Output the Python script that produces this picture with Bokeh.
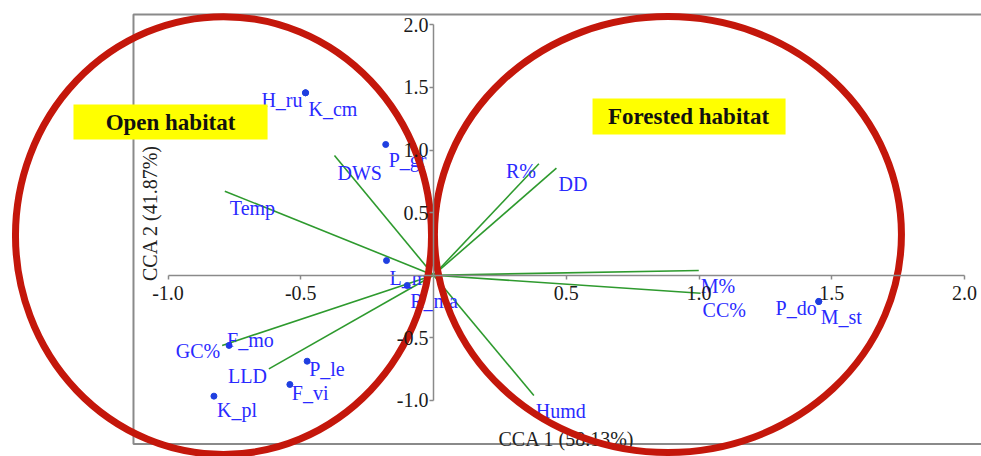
from bokeh.plotting import figure
from bokeh.models import ColumnDataSource, FixedTicker, PrintfTickFormatter, Range1d
from bokeh.embed import file_html
from bokeh.resources import INLINE
from bokeh.core.properties import value

# ---------------- data ----------------
species = ["H_ru", "K_cm", "P_gr", "L_m", "R_ma", "F_mo", "P_le", "F_vi", "K_pl", "P_do", "M_st"]
sp_x = [-0.482, -0.482, -0.180, -0.177, -0.099, -0.770, -0.476, -0.541, -0.827, 1.451, 1.451]
sp_y = [1.457, 1.457, 1.044, 0.117, -0.082, -0.561, -0.687, -0.873, -0.966, -0.210, -0.210]

env = ["Temp", "DWS", "R%", "DD", "M%", "CC%", "Humd", "GC%", "LLD"]
env_x = [-0.786, -0.373, 0.397, 0.463, 0.999, 1.006, 0.378, -0.796, -0.620]
env_y = [0.671, 0.956, 0.890, 0.855, 0.038, -0.144, -0.961, -0.561, -0.748]

ticks = [-1.0, -0.5, 0.5, 1.0, 1.5, 2.0]
x_title = "CCA 1 (58.13%)"
y_title = "CCA 2 (41.87%)"
groups = ["Open habitat", "Forested habitat"]

# ---------------- label placement (style) ----------------
sp_align = ["right", "left", "left", "left", "left", "left", "left", "left", "left", "right", "left"]
sp_dx = [-3, 3, 3, 3, 3, -2, 2, 2, 3, -2, 2]
sp_dy = [7, 16, 16, 17, 16, -5, 8, 9, 14, 7, 16]
env_align = ["left", "left", "right", "left", "left", "left", "left", "right", "right"]
env_dx = [5, 3, -3, 2, 2, 2, 2, -2, -2]
env_dy = [17, 17, 7, 16, 16, 17, 15, 6, 7]

FONT = value("Liberation Serif")
BLUE = "#2a2aff"
GREEN = "#2e9a2e"
RED = "#c4170b"
GRAY = "#8a8a8a"

p = figure(width=981, height=456,
           x_range=Range1d(-1.6309, 2.0640), y_range=Range1d(-1.4481, 2.1941),
           output_backend="svg", toolbar_location=None, min_border=0,
           outline_line_color=None)
p.grid.visible = False

for ax in (p.xaxis, p.yaxis):
    ax.fixed_location = 0
    ax.bounds = (-1, 2)
    ax.ticker = FixedTicker(ticks=ticks, minor_ticks=[])
    ax.formatter = PrintfTickFormatter(format="%.1f")
    ax.axis_line_color = GRAY
    ax.axis_line_width = 1.5
    ax.major_tick_line_color = GRAY
    ax.major_tick_line_width = 1.5
    ax.major_tick_in = 0
    ax.major_tick_out = 4
    ax.minor_tick_line_color = None
    ax.major_label_text_font = "Liberation Serif"
    ax.major_label_text_font_size = "20px"
    ax.major_label_text_color = "#1a1a1a"
p.xaxis.major_label_standoff = 7
p.yaxis.major_label_standoff = 1

# frame box
p.quad(left=[-1.130], right=[2.2], top=[2.082], bottom=[-1.348],
       fill_color=None, line_color=GRAY, line_width=2)

# environmental vectors
src_env = ColumnDataSource(dict(x=env_x, y=env_y))
p.segment(x0=0, y0=0, x1="x", y1="y", source=src_env, line_color=GREEN, line_width=1.6)
for al in ("left", "right"):
    idx = [i for i, a in enumerate(env_align) if a == al]
    s = ColumnDataSource(dict(x=[env_x[i] for i in idx], y=[env_y[i] for i in idx],
                              t=[env[i] for i in idx], dx=[env_dx[i] for i in idx],
                              dy=[env_dy[i] for i in idx]))
    p.text(x="x", y="y", text="t", x_offset="dx", y_offset="dy", source=s,
           text_align=al, text_baseline="alphabetic", text_font=FONT,
           text_font_size="20px", text_color=BLUE)

# species points
p.scatter(x=sp_x, y=sp_y, size=6, color="#1f3fe0")
for al in ("left", "right"):
    idx = [i for i, a in enumerate(sp_align) if a == al]
    s = ColumnDataSource(dict(x=[sp_x[i] for i in idx], y=[sp_y[i] for i in idx],
                              t=[species[i] for i in idx], dx=[sp_dx[i] for i in idx],
                              dy=[sp_dy[i] for i in idx]))
    p.text(x="x", y="y", text="t", x_offset="dx", y_offset="dy", source=s,
           text_align=al, text_baseline="alphabetic", text_font=FONT,
           text_font_size="20px", text_color=BLUE)

# axis titles
p.text(x=[0.501], y=[-1.307], text=[x_title], text_align="center", text_baseline="alphabetic",
       text_font=FONT, text_font_size="20px", text_color="#222222")
p.text(x=[-1.066], y=[0.497], text=[y_title], angle=1.5708, text_align="center",
       text_baseline="alphabetic", text_font=FONT, text_font_size="20px", text_color="#222222")

# group boxes
p.quad(left=[-1.356, 0.599], right=[-0.625, 1.326], top=[1.363, 1.411], bottom=[1.084, 1.124],
       fill_color="#ffff00", line_color=None)
p.text(x=[-0.9906, 0.9605], y=[1.2196, 1.2676], text=groups, text_align="center",
       text_baseline="middle", text_font=FONT, text_font_size="23px",
       text_font_style="bold", text_color="#111111")

# ellipses
p.ellipse(x=[-0.791, 0.883], y=[0.317, 0.325], width=[1.567, 1.759], height=[3.498, 3.482],
          fill_color=None, line_color=RED, line_width=7)

open("out.html", "w").write(file_html(p, INLINE))
